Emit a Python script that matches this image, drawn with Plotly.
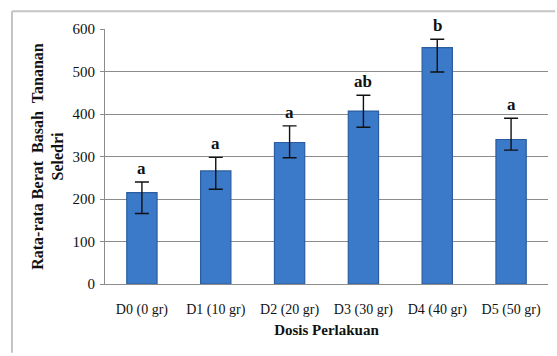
import plotly.graph_objects as go

# Treatment doses and mean fresh weight of celery per plant
categories = ["D0 (0 gr)", "D1 (10 gr)", "D2 (20 gr)", "D3 (30 gr)", "D4 (40 gr)", "D5 (50 gr)"]
mean_weight = [215, 266, 333, 407, 556, 340]
upper_bound = [240, 298, 372, 444, 576, 390]
lower_bound = [166, 223, 297, 369, 499, 315]
letters = ["a", "a", "a", "ab", "b", "a"]

y_ticks = [0, 100, 200, 300, 400, 500, 600]

err_plus = [u - m for u, m in zip(upper_bound, mean_weight)]
err_minus = [m - l for m, l in zip(mean_weight, lower_bound)]

FONT = "Liberation Serif"
NB = "\u00a0"

fig = go.Figure()
fig.add_trace(go.Bar(
    x=categories,
    y=mean_weight,
    marker=dict(color="#3b79c9", line=dict(color="#2a5c9f", width=1.2)),
    error_y=dict(type="data", symmetric=False, array=err_plus, arrayminus=err_minus,
                 color="#111111", thickness=1.4, width=7),
    width=0.41,
    showlegend=False,
))

# Significance letters above each error bar
for c, u, t in zip(categories, upper_bound, letters):
    fig.add_annotation(x=c, y=u, text=f"<b>{t}</b>", showarrow=False,
                       yanchor="bottom", yshift=2,
                       font=dict(family=FONT, size=17, color="#111111"))

# Outer chart frame: top and left edges, kept inside the page
frame = dict(color="#c4c4c4", width=2)
fig.add_shape(type="line", xref="paper", yref="paper",
              x0=-0.21, x1=1.016, y0=1.07, y1=1.07, line=frame)
fig.add_shape(type="line", xref="paper", yref="paper",
              x0=-0.21, x1=-0.21, y0=1.07, y1=-0.27, line=frame)

y_title = f"<b>Rata-rata{NB}Berat{NB}{NB}Basah{NB}{NB}Tananan<br>Seledri</b>"

fig.update_layout(
    width=557, height=356,
    margin=dict(l=105, r=9, t=29, b=72),
    paper_bgcolor="white",
    plot_bgcolor="white",
    font=dict(family=FONT, size=14, color="#111111"),
    xaxis=dict(
        showline=True, linecolor="#8c8c8c", linewidth=1,
        ticks="", ticklabelstandoff=12,
        tickfont=dict(family=FONT, size=14, color="#111111"),
        title=dict(text="<b>Dosis Perlakuan</b>", font=dict(family=FONT, size=15), standoff=7),
    ),
    yaxis=dict(
        range=[0, 600], tickvals=y_ticks,
        showline=True, linecolor="#8c8c8c", linewidth=1,
        ticks="outside", ticklen=4, tickcolor="#8c8c8c",
        showgrid=True, gridcolor="#8c8c8c", gridwidth=1,
        zeroline=False, ticklabelstandoff=2,
        tickfont=dict(family=FONT, size=15, color="#111111"),
        title=dict(text=y_title, font=dict(family=FONT, size=16), standoff=4),
    ),
)

fig.write_html("out.html")
